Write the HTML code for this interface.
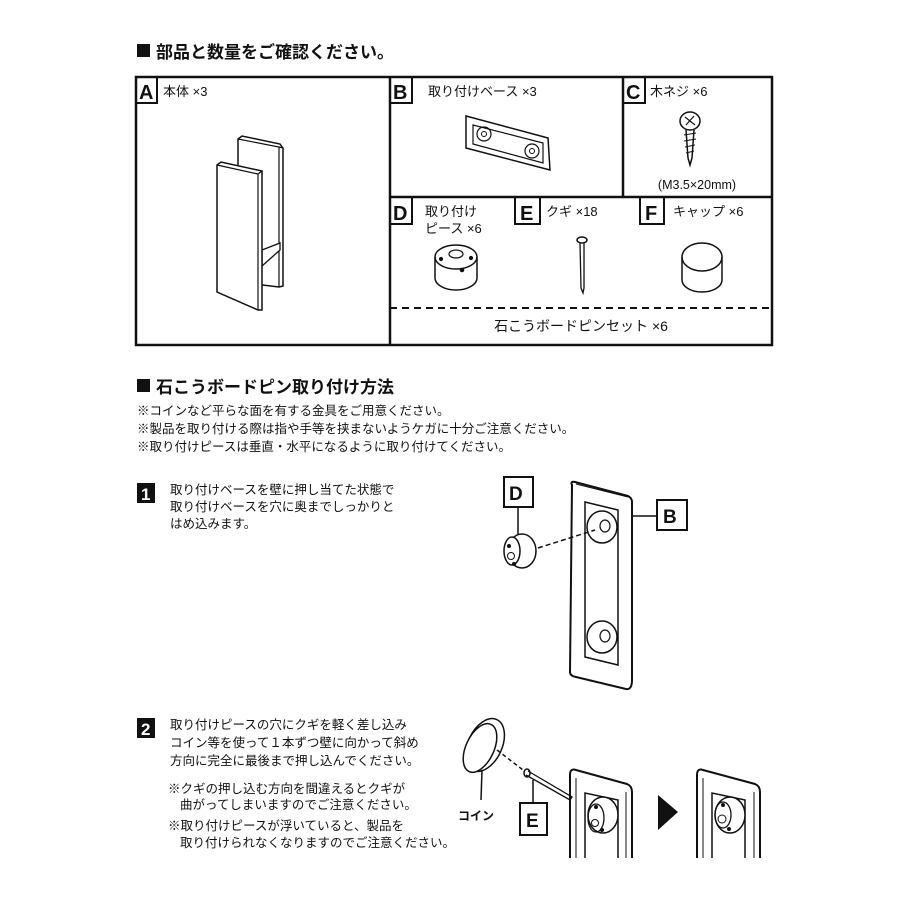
<!DOCTYPE html>
<html><head><meta charset="utf-8"><style>
html,body{margin:0;padding:0;background:#fff}
svg{display:block}
text{font-family:"Liberation Sans","Noto Sans CJK JP",sans-serif;fill:#111}
.b{font-weight:bold}
</style></head><body>
<svg width="900" height="900" viewBox="0 0 900 900" xmlns="http://www.w3.org/2000/svg">
<g stroke="#111" fill="none">
<rect x="137" y="44" width="13" height="13" fill="#111" stroke="none"/>
<rect x="136" y="77" width="636" height="268" stroke-width="2.5"/>
<line x1="390" y1="77" x2="390" y2="345" stroke-width="2.5"/>
<line x1="390" y1="197" x2="772" y2="197" stroke-width="2.5"/>
<line x1="623" y1="77" x2="623" y2="197" stroke-width="2.5"/>
<line x1="390" y1="308" x2="772" y2="308" stroke-width="2" stroke-dasharray="7,5"/>
<rect x="136" y="77" width="21" height="26" stroke-width="2"/>
<rect x="390" y="77" width="22" height="26" stroke-width="2"/>
<rect x="623" y="77" width="22" height="26" stroke-width="2"/>
<rect x="390" y="197" width="22" height="27" stroke-width="2"/>
<rect x="515" y="197" width="25" height="27" stroke-width="2"/>
<rect x="640" y="197" width="24" height="27" stroke-width="2"/>
<!-- A body: back panel -->
<path d="M238 139 L242 136 L280 144 L283 148 L283 286 L279 287 L238 282 Z" stroke-width="1.5" fill="#fff"/>
<path d="M238 139 L279 147 L279 287 M279 147 L283 148" stroke-width="1.2"/>
<!-- shelf -->
<path d="M262 250 L280 243 L280 250 L262 266 Z" stroke-width="1.3" fill="#fff"/>
<!-- front panel -->
<path d="M217 165 L221 162 L262 171 L262 176 L262 310 L258 310 L217 292 Z" stroke-width="1.5" fill="#fff"/>
<path d="M217 165 L258 174 L258 310 M258 174 L262 171" stroke-width="1.2"/>
<!-- B base -->
<path d="M466 116 L548 138 L550 170 L466 148 Z" stroke-width="1.5" fill="#fff"/>
<path d="M473 125 L543 143 L543 163 L473 144 Z" stroke-width="1.2"/>
<circle cx="484" cy="134" r="7" stroke-width="1.2"/><circle cx="484" cy="134" r="2.5"/>
<circle cx="532" cy="151" r="7" stroke-width="1.2"/><circle cx="532" cy="151" r="2.5"/>
<!-- C screw -->
<ellipse cx="690" cy="121" rx="10" ry="9" stroke-width="1.5"/>
<path d="M685 117 L695 125 M694 116 L686 125" stroke-width="1.2"/>
<path d="M686 130 L688 158 L690 165 L692 158 L694 130" stroke-width="1.5"/>
<path d="M684 135 L696 133 M684 141 L696 139 M685 147 L695 145 M686 153 L694 151" stroke-width="1"/>
<!-- D piece -->
<ellipse cx="456" cy="257" rx="21" ry="12" stroke-width="1.5" fill="#fff"/>
<path d="M435 257 L435 278 A21 12 0 0 0 477 278 L477 257" stroke-width="1.5"/>
<ellipse cx="456" cy="254" rx="7" ry="4" stroke-width="1.2"/>
<circle cx="441" cy="259" r="1.6" fill="#111"/><circle cx="471" cy="258" r="1.6" fill="#111"/><circle cx="462" cy="270" r="1.8" fill="#111"/>
<!-- E nail -->
<ellipse cx="582" cy="240" rx="5" ry="3" stroke-width="1.5"/>
<path d="M580 243 L581 288 L583 293 L584 288 L584 243" stroke-width="1.3"/>
<!-- F cap -->
<ellipse cx="702" cy="257" rx="20" ry="14" stroke-width="1.5" fill="#fff"/>
<path d="M682 257 L682 280 A20 12 0 0 0 722 280 L722 257" stroke-width="1.5"/>
<!-- title 2 -->
<rect x="137" y="379" width="13" height="13" fill="#111" stroke="none"/>
<!-- step 1 -->
<rect x="137" y="483" width="18" height="20" fill="#111" stroke="none"/>
<path d="M572 485 Q570 481 575 482 L628 496 Q632 498 632 502 L632 680 Q632 690 626 689 L576 677 Q570 676 570 672 Z" stroke-width="2" fill="#fff"/>
<path d="M576 484 L628 497" stroke-width="1"/>
<path d="M585 502 L618 510 L618 665 L585 657 Z" stroke-width="1.5"/>
<ellipse cx="602" cy="527" rx="15" ry="16" stroke-width="1.5"/><ellipse cx="605" cy="526" rx="5" ry="6" stroke-width="1.2"/>
<ellipse cx="602" cy="637" rx="15" ry="16" stroke-width="1.5"/><ellipse cx="605" cy="636" rx="5" ry="6" stroke-width="1.2"/>
<rect x="504" y="477" width="29" height="30" stroke-width="2"/>
<line x1="518" y1="507" x2="518" y2="536" stroke-width="1.5"/>
<ellipse cx="522" cy="551" rx="14" ry="17" stroke-width="1.5" fill="#fff"/>
<ellipse cx="512" cy="551" rx="8" ry="14" stroke-width="1.5" fill="#fff"/>
<circle cx="511" cy="556" r="3.5" stroke-width="1"/>
<circle cx="509" cy="546" r="1.5" fill="#111"/><circle cx="514" cy="564" r="1.5" fill="#111"/>
<line x1="538" y1="548" x2="595" y2="530" stroke-width="1.5" stroke-dasharray="5,3"/>
<rect x="657" y="500" width="30" height="30" stroke-width="2"/>
<line x1="632" y1="516" x2="657" y2="516" stroke-width="1.5"/>
<!-- step 2 -->
<rect x="137" y="718" width="18" height="20" fill="#111" stroke="none"/>
<ellipse cx="485" cy="745" rx="17" ry="28" transform="rotate(25 485 745)" stroke-width="1.5"/>
<ellipse cx="480" cy="748" rx="14" ry="26" transform="rotate(25 480 748)" stroke-width="1.5" fill="#fff"/>
<line x1="482" y1="770" x2="481" y2="800" stroke-width="1.5"/>
<line x1="497" y1="750" x2="523" y2="770" stroke-width="1.5" stroke-dasharray="4,3"/>
<ellipse cx="527" cy="773" rx="3" ry="4" stroke-width="1.5"/>
<path d="M528 771 L572 797 L570 800 L526 775" stroke-width="1.3"/>
<rect x="520" y="803" width="27" height="32" stroke-width="2"/>
<line x1="533" y1="780" x2="533" y2="803" stroke-width="1.5"/>
<path d="M570 858 L570 775 Q570 768 576 770 L627 784 Q632 786 632 792 L632 858" stroke-width="2"/>
<path d="M576 858 L576 778 M626 858 L626 792" stroke-width="1"/>
<path d="M585 858 L585 793 L618 800 L618 858" stroke-width="1.5"/>
<ellipse cx="603" cy="815" rx="15" ry="18" stroke-width="1.5" fill="#fff"/>
<ellipse cx="596" cy="818" rx="8" ry="14" stroke-width="1.3"/>
<circle cx="595" cy="823" r="3.5" stroke-width="1"/>
<circle cx="596" cy="807" r="1.5" fill="#111"/><circle cx="602" cy="830" r="1.5" fill="#111"/>
<path d="M658 795 L678 812 L658 830 Z" fill="#111" stroke="none"/>
<path d="M697 858 L697 775 Q697 768 703 770 L755 784 Q760 786 760 792 L760 858" stroke-width="2"/>
<path d="M703 858 L703 778 M754 858 L754 792" stroke-width="1"/>
<path d="M712 858 L712 793 L745 800 L745 858" stroke-width="1.5"/>
<ellipse cx="730" cy="815" rx="15" ry="18" stroke-width="1.5" fill="#fff"/>
<ellipse cx="723" cy="815" rx="8" ry="13" stroke-width="1.3"/>
<circle cx="722" cy="819" r="4" stroke-width="1"/>
<circle cx="723" cy="805" r="1.5" fill="#111"/><circle cx="729" cy="829" r="1.5" fill="#111"/>
</g>
<text x="156" y="58" font-size="17" class="b">部品と数量をご確認ください。</text>
<text x="139" y="99" font-size="20" class="b">A</text>
<text x="393" y="99" font-size="20" class="b">B</text>
<text x="626" y="99" font-size="20" class="b">C</text>
<text x="393" y="220" font-size="20" class="b">D</text>
<text x="520" y="220" font-size="20" class="b">E</text>
<text x="645" y="220" font-size="20" class="b">F</text>
<text x="163" y="96" font-size="13">本体 ×3</text>
<text x="428" y="96" font-size="13">取り付けベース ×3</text>
<text x="650" y="96" font-size="13">木ネジ ×6</text>
<text x="697" y="189" font-size="12.5" text-anchor="middle">(M3.5×20mm)</text>
<text x="425" y="216" font-size="13">取り付け</text>
<text x="425" y="233" font-size="13">ピース ×6</text>
<text x="546" y="216" font-size="13">クギ ×18</text>
<text x="673" y="216" font-size="13">キャップ ×6</text>
<text x="581" y="331" font-size="14" text-anchor="middle">石こうボードピンセット ×6</text>
<text x="156" y="393" font-size="17" class="b">石こうボードピン取り付け方法</text>
<text x="137" y="415" font-size="12.5">※コインなど平らな面を有する金具をご用意ください。</text>
<text x="137" y="433" font-size="12.5">※製品を取り付ける際は指や手等を挟まないようケガに十分ご注意ください。</text>
<text x="137" y="451" font-size="12.5">※取り付けピースは垂直・水平になるように取り付けてください。</text>
<text x="141" y="500" font-size="17" class="b" style="fill:#fff">1</text>
<text x="170" y="494" font-size="12.5">取り付けベースを壁に押し当てた状態で</text>
<text x="170" y="511" font-size="12.5">取り付けベースを穴に奥までしっかりと</text>
<text x="170" y="528" font-size="12.5">はめ込みます。</text>
<text x="509" y="500" font-size="19" class="b">D</text>
<text x="663" y="523" font-size="19" class="b">B</text>
<text x="141" y="735" font-size="17" class="b" style="fill:#fff">2</text>
<text x="170" y="729" font-size="12.5">取り付けピースの穴にクギを軽く差し込み</text>
<text x="170" y="747" font-size="12.5">コイン等を使って１本ずつ壁に向かって斜め</text>
<text x="170" y="765" font-size="12.5">方向に完全に最後まで押し込んでください。</text>
<text x="168" y="793" font-size="12.5">※クギの押し込む方向を間違えるとクギが</text>
<text x="180" y="809" font-size="12.5">曲がってしまいますのでご注意ください。</text>
<text x="168" y="830" font-size="12.5">※取り付けピースが浮いていると、製品を</text>
<text x="180" y="847" font-size="12.5">取り付けられなくなりますのでご注意ください。</text>
<text x="458" y="820" font-size="12" class="b">コイン</text>
<text x="526" y="827" font-size="19" class="b">E</text>
</svg>
</body></html>
